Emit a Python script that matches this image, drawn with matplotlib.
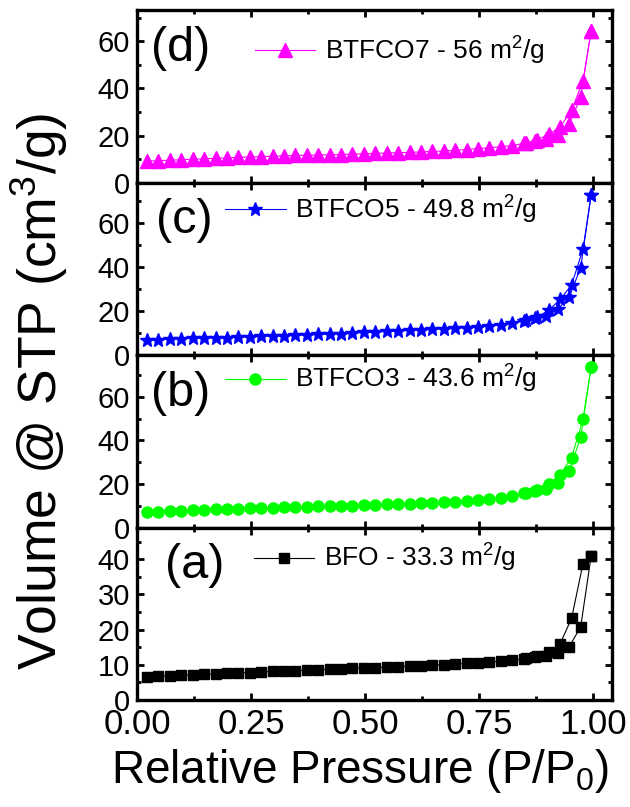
import numpy as np
import matplotlib
matplotlib.use('Agg')
import matplotlib.pyplot as plt
from matplotlib.ticker import MultipleLocator, FormatStrFormatter

plt.rcParams['font.family'] = ['Liberation Sans', 'DejaVu Sans']
plt.rcParams['mathtext.default'] = 'regular'

# relative pressure, adsorption branch (same grid for all samples)
p_ads = [0.022, 0.047, 0.072, 0.097, 0.122, 0.147, 0.172, 0.197, 0.222, 0.247,
         0.272, 0.297, 0.322, 0.347, 0.372, 0.397, 0.422, 0.447, 0.472, 0.497,
         0.522, 0.547, 0.572, 0.597, 0.622, 0.647, 0.672, 0.697, 0.722, 0.747,
         0.772, 0.797, 0.822, 0.847, 0.872, 0.897, 0.922, 0.947, 0.972, 0.995]
# desorption branch
p_des = [0.995, 0.977, 0.952, 0.927, 0.902, 0.877, 0.852]

# (a) BFO
bfo_ads = [6.4, 6.7, 6.9, 7.0, 7.2, 7.3, 7.4, 7.6, 7.7, 7.8,
           8.0, 8.1, 8.2, 8.3, 8.5, 8.6, 8.7, 8.8, 9.0, 9.1,
           9.2, 9.3, 9.5, 9.6, 9.7, 9.9, 10.0, 10.2, 10.4, 10.6,
           10.8, 11.0, 11.3, 11.7, 12.1, 12.6, 13.4, 15.2, 20.8, 41.0]
bfo_des = [41.0, 38.7, 23.2, 16.0, 13.6, 12.6, 12.0]

# (b) BTFCO3
btfco3_ads = [7.0, 7.3, 7.6, 7.8, 8.0, 8.2, 8.4, 8.6, 8.7, 8.9,
              9.0, 9.2, 9.3, 9.5, 9.6, 9.7, 9.8, 9.9, 10.1, 10.2,
              10.4, 10.6, 10.8, 11.0, 11.2, 11.4, 11.6, 11.9, 12.2, 12.6,
              13.2, 13.8, 14.6, 15.7, 16.9, 17.5, 20.5, 26.0, 41.5, 73.8]
btfco3_des = [73.8, 49.6, 32.1, 24.3, 19.9, 17.2, 15.8]

# (c) BTFCO5
btfco5_ads = [6.8, 7.1, 7.3, 7.5, 7.7, 7.8, 7.9, 8.0, 8.1, 8.3,
              8.5, 8.7, 8.9, 9.0, 9.2, 9.4, 9.6, 9.8, 10.0, 10.3,
              10.5, 10.8, 11.0, 11.2, 11.5, 11.7, 12.0, 12.2, 12.5, 12.9,
              13.4, 13.9, 14.6, 15.6, 16.8, 17.7, 20.8, 26.4, 39.7, 72.7]
btfco5_des = [72.7, 47.9, 31.8, 25.3, 20.3, 17.4, 16.0]

# (d) BTFCO7
btfco7_ads = [9.2, 9.4, 9.6, 9.8, 10.0, 10.2, 10.4, 10.6, 10.8, 11.0,
              11.1, 11.3, 11.4, 11.6, 11.7, 11.8, 11.9, 12.0, 12.2, 12.3,
              12.5, 12.6, 12.8, 12.9, 13.1, 13.3, 13.5, 13.8, 14.1, 14.5,
              14.9, 15.3, 15.8, 16.7, 17.9, 18.4, 20.2, 25.1, 36.2, 64.5]
btfco7_des = [64.5, 43.2, 30.7, 23.7, 20.5, 18.3, 16.9]

labels = ['BTFCO7 - 56 m$^2$/g', 'BTFCO5 - 49.8 m$^2$/g',
          'BTFCO3 - 43.6 m$^2$/g', 'BFO - 33.3 m$^2$/g']
tags = ['(d)', '(c)', '(b)', '(a)']
ads = [btfco7_ads, btfco5_ads, btfco3_ads, bfo_ads]
des = [btfco7_des, btfco5_des, btfco3_des, bfo_des]
colores = ['#ff00ff', '#0000ff', '#00ff00', '#000000']
marcas = ['^', '*', 'o', 's']
tam = [9.5, 10.5, 8, 7]
ymax = [73, 78, 79, 49]
ymaj = [20, 20, 20, 10]
ymin_ = [10, 10, 10, 5]
leg_x = [0.248, 0.185, 0.185, 0.246]
leg_y = [0.765, 0.843, 0.861, 0.823]
tag_x = [0.03, 0.04, 0.03, 0.058]

fig = plt.figure(figsize=(6.3, 8.07), dpi=100)
gs = fig.add_gridspec(4, 1, left=0.2175, right=0.971, bottom=0.1326, top=0.987, hspace=0)
axs = [fig.add_subplot(gs[i]) for i in range(4)]

for i, ax in enumerate(axs):
    ax.plot(p_ads, ads[i], color=colores[i], marker=marcas[i], ms=tam[i], lw=0.8,
            mec=colores[i], label=labels[i])
    ax.plot(p_des, des[i], color=colores[i], marker=marcas[i], ms=tam[i], lw=0.8,
            mec=colores[i])
    ax.set_xlim(0, 1.04)
    ax.set_ylim(0, ymax[i])
    ax.xaxis.set_major_locator(MultipleLocator(0.25))
    ax.xaxis.set_minor_locator(MultipleLocator(0.125))
    ax.xaxis.set_major_formatter(FormatStrFormatter('%.2f'))
    ax.yaxis.set_major_locator(MultipleLocator(ymaj[i]))
    ax.yaxis.set_minor_locator(MultipleLocator(ymin_[i]))
    ax.tick_params(which='both', direction='in', top=True, right=True, width=2)
    ax.tick_params(which='major', length=5)
    ax.tick_params(which='minor', length=3)
    ax.tick_params(axis='y', labelsize=21, pad=5)
    ax.tick_params(axis='x', labelsize=25, pad=6)
    for s in ax.spines.values():
        s.set_linewidth(2.4)
    if i < 3:
        ax.tick_params(axis='x', labelbottom=False)
    ax.legend(loc='center left', bbox_to_anchor=(leg_x[i], leg_y[i]), frameon=False,
              fontsize=19, borderpad=0, borderaxespad=0, handlelength=2.3,
              handletextpad=0.35, numpoints=1)
    ax.text(tag_x[i], 0.78, tags[i], transform=ax.transAxes, fontsize=35,
            ha='left', va='center')

fig.text(0.062, 0.5155, 'Volume @ STP (cm$^3$/g)', rotation=90, fontsize=38.5,
         ha='center', va='center')
fig.text(0.571, 0.045, 'Relative Pressure (P/P$_0$)', fontsize=33,
         ha='center', va='center')

plt.savefig('out.png', dpi=100)
